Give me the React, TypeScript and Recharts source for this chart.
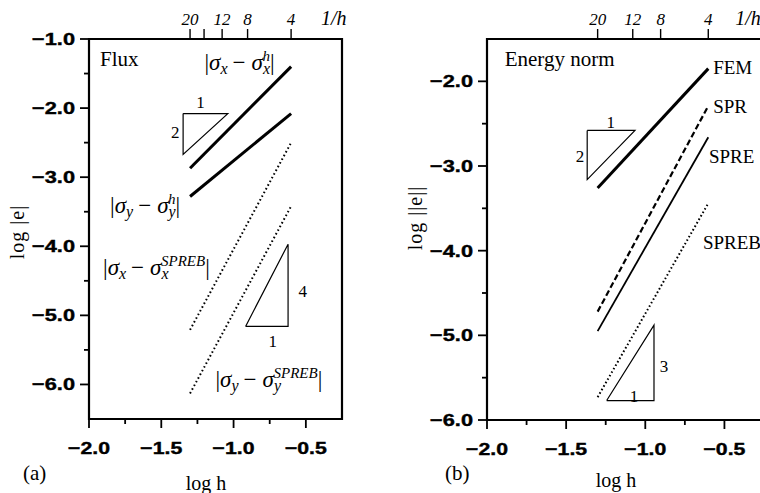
import React from 'react';
import { LineChart, Line, XAxis, YAxis, ReferenceDot, ReferenceArea } from 'recharts';

// log h for the finest and coarsest mesh (1/h = 20 ... 4)
const logH = [-1.301, -0.602];

// (a) flux errors, log |e|
const fluxSigmaXh = [-2.87, -1.4];
const fluxSigmaYh = [-3.28, -2.08];
const fluxSigmaXSpreb = [-5.21, -2.5];
const fluxSigmaYSpreb = [-6.13, -3.42];

// (b) energy norm errors, log ||e||
const energyFem = [-3.26, -1.85];
const energySpr = [-4.72, -2.29];
const energySpre = [-4.95, -2.66];
const energySpreb = [-5.73, -3.44];

// slope triangles (closed: first vertex repeated)
const slopeA2 = { x: [-1.349, -1.04, -1.349, -1.349], y: [-2.08, -2.08, -2.67, -2.08] };
const slopeA4 = { x: [-0.917, -0.623, -0.623, -0.917], y: [-5.16, -5.16, -3.97, -5.16] };
const slopeB2 = { x: [-1.367, -1.065, -1.367, -1.367], y: [-2.58, -2.58, -3.16, -2.58] };
const slopeB3 = { x: [-1.244, -0.945, -0.945, -1.244], y: [-5.77, -5.77, -4.88, -5.77] };

// axis ticks
const xTicks = [-2, -1.75, -1.5, -1.25, -1, -0.75, -0.5];
const yTicksA = [-6, -5.5, -5, -4.5, -4, -3.5, -3, -2.5, -2, -1.5, -1];
const yTicksB = [-6, -5.5, -5, -4.5, -4, -3.5, -3, -2.5, -2];
const meshA = [20, 16, 12, 8, 4];
const meshLabelsA = ['20', '', '12', '8', '4'];
const meshB = [20, 12, 8, 4];
const meshLabelsB = ['20', '12', '8', '4'];

// text notes (data coordinates)
const notesA = [
  { text: 'Flux', x: -1.924, y: -1.391, size: 21, anchor: 'start' },
  { text: '1', x: -1.229, y: -2.0, size: 17, anchor: 'middle' },
  { text: '2', x: -1.403, y: -2.435, size: 17, anchor: 'middle' },
  { text: '4', x: -0.521, y: -4.739, size: 17, anchor: 'middle' },
  { text: '1', x: -0.729, y: -5.464, size: 17, anchor: 'middle' },
];
const sigmaNotesA = [
  { sub: 'x', sup: 'h', x: -1.201, y: -1.449 },
  { sub: 'y', sup: 'h', x: -1.854, y: -3.522 },
  { sub: 'x', sup: 'SPREB', x: -1.903, y: -4.42 },
  { sub: 'y', sup: 'SPREB', x: -1.125, y: -6.043 },
];
const notesB = [
  { text: 'Energy norm', x: -1.888, y: -1.814, size: 21, anchor: 'start' },
  { text: 'FEM', x: -0.571, y: -1.909, size: 19, anchor: 'start' },
  { text: 'SPR', x: -0.571, y: -2.37, size: 19, anchor: 'start' },
  { text: 'SPRE', x: -0.598, y: -2.962, size: 19, anchor: 'start' },
  { text: 'SPREB', x: -0.636, y: -3.98, size: 19, anchor: 'start' },
  { text: '1', x: -1.218, y: -2.548, size: 17, anchor: 'middle' },
  { text: '2', x: -1.413, y: -2.95, size: 17, anchor: 'middle' },
  { text: '3', x: -0.882, y: -5.435, size: 17, anchor: 'middle' },
  { text: '1', x: -1.072, y: -5.79, size: 17, anchor: 'middle' },
];

const SERIF = '"Liberation Serif", "DejaVu Serif", serif';
const SANS = '"Liberation Sans", Arial, sans-serif';
const INK = '#000';

const pts = (ys: number[]) => logH.map((x, i) => ({ x, y: ys[i] }));
const poly = (p: { x: number[]; y: number[] }) => p.x.map((x, i) => ({ x, y: p.y[i] }));
const isMajor = (v: number) => Math.abs(v * 2 - Math.round(v * 2)) < 1e-6;
const fmt = (v: number) => (v < 0 ? '\u2212' : '') + Math.abs(v).toFixed(1);

function BottomTick({ x, y, payload }: any) {
  const major = isMajor(payload.value);
  return (
    <g>
      <line x1={x} x2={x} y1={y} y2={y + (major ? 9 : 5)} stroke={INK} strokeWidth={1.8} />
      {major && (
        <text
          transform={`translate(${x},${y + 35}) scale(1.25,1)`}
          textAnchor="middle"
          fontFamily={SANS}
          fontWeight="bold"
          fontSize={17}
          fill={INK}
          stroke={INK}
          strokeWidth={0.4}
        >
          {fmt(payload.value)}
        </text>
      )}
    </g>
  );
}

function LeftTick({ x, y, payload }: any) {
  const major = Number.isInteger(payload.value);
  return (
    <g>
      <line x1={x} x2={x - (major ? 9 : 5)} y1={y} y2={y} stroke={INK} strokeWidth={1.8} />
      {major && (
        <text
          transform={`translate(${x - 14},${y + 6}) scale(1.28,1)`}
          textAnchor="end"
          fontFamily={SANS}
          fontWeight="bold"
          fontSize={17}
          fill={INK}
          stroke={INK}
          strokeWidth={0.4}
        >
          {fmt(payload.value)}
        </text>
      )}
    </g>
  );
}

function TopTick({ x, y, index, labels }: any) {
  return (
    <g>
      <line x1={x} x2={x} y1={y} y2={y - 10} stroke={INK} strokeWidth={1.4} />
      <text x={x} y={y - 14} textAnchor="middle" fontFamily={SERIF} fontStyle="italic" fontSize={17} fill={INK}>
        {labels[index]}
      </text>
    </g>
  );
}

function SigmaText({ cx, cy, sub, sup }: any) {
  return (
    <text x={cx} y={cy} fontFamily={SERIF} fontSize={23} fill={INK}>
      <tspan>|</tspan>
      <tspan fontStyle="italic">σ</tspan>
      <tspan fontStyle="italic" fontSize={16} dy={4}>{sub}</tspan>
      <tspan dy={-4} dx={5}>{'\u2212'}</tspan>
      <tspan fontStyle="italic" dx={6}>σ</tspan>
      <tspan fontStyle="italic" fontSize={16} dy={4}>{sub}</tspan>
      <tspan fontStyle="italic" fontSize={15} dx={-7.5} dy={-13}>{sup}</tspan>
      <tspan dy={9}>|</tspan>
    </text>
  );
}

function PlainText({ cx, cy, text, size, anchor }: any) {
  return (
    <text x={cx} y={cy} textAnchor={anchor} fontFamily={SERIF} fontSize={size} fill={INK}>
      {text}
    </text>
  );
}

const axisLine = { stroke: INK, strokeWidth: 2 };

function Frame({ xDomain, yDomain, yTicks, mesh, meshLabels, hNote }: any) {
  const meshX = mesh.map((n: number) => -Math.log10(n));
  const meshPts = meshX.map((x: number) => ({ x, y: yDomain[0] }));
  return [
    <XAxis
      key="xb"
      xAxisId={0}
      dataKey="x"
      type="number"
      domain={xDomain}
      ticks={xTicks}
      interval={0}
      height={1}
      tickSize={0}
      tickMargin={0}
      tickLine={false}
      stroke={INK}
      axisLine={axisLine}
      tick={<BottomTick />}
    />,
    <XAxis
      key="xt"
      xAxisId="top"
      dataKey="x"
      orientation="top"
      type="number"
      domain={xDomain}
      ticks={meshX}
      interval={0}
      height={1}
      tickSize={0}
      tickMargin={0}
      tickLine={false}
      stroke={INK}
      axisLine={axisLine}
      tick={<TopTick labels={meshLabels} />}
    />,
    <YAxis
      key="yl"
      yAxisId={0}
      type="number"
      domain={yDomain}
      ticks={yTicks}
      interval={0}
      width={1}
      tickSize={0}
      tickMargin={0}
      tickLine={false}
      stroke={INK}
      axisLine={axisLine}
      tick={<LeftTick />}
    />,
    <YAxis
      key="yr"
      yAxisId="right"
      orientation="right"
      type="number"
      domain={yDomain}
      width={1}
      tick={false}
      tickLine={false}
      stroke={INK}
      axisLine={axisLine}
    />,
    // plot frame
    <ReferenceArea
      key="frame"
      x1={xDomain[0]}
      x2={xDomain[1]}
      y1={yDomain[0]}
      y2={yDomain[1]}
      fill="none"
      fillOpacity={0}
      stroke={INK}
      strokeWidth={2.2}
      strokeOpacity={1}
      ifOverflow="visible"
    />,
    // carrier for the 1/h scale on top (drawn invisibly)
    <Line
      key="mesh"
      xAxisId="top"
      yAxisId="right"
      data={meshPts}
      dataKey="y"
      stroke="none"
      dot={false}
      activeDot={false}
      legendType="none"
      isAnimationActive={false}
    />,
    <ReferenceDot
      key="h"
      x={hNote.x}
      y={hNote.y}
      r={0}
      ifOverflow="visible"
      shape={(p: any) => (
        <text x={p.cx} y={p.cy} fontFamily={SERIF} fontStyle="italic" fontSize={20} fill={INK}>
          1/h
        </text>
      )}
    />,
  ];
}

function series(key: string, data: any[], width: number, dash?: string) {
  return (
    <Line
      key={key}
      data={data}
      dataKey="y"
      type="linear"
      stroke={INK}
      strokeWidth={width}
      strokeDasharray={dash}
      dot={false}
      activeDot={false}
      isAnimationActive={false}
    />
  );
}

function notes(list: any[]) {
  return list.map((n, i) => (
    <ReferenceDot
      key={'n' + i}
      x={n.x}
      y={n.y}
      r={0}
      ifOverflow="visible"
      shape={(p: any) => <PlainText cx={p.cx} cy={p.cy} {...n} />}
    />
  ));
}

function sigmaNotes(list: any[]) {
  return list.map((n, i) => (
    <ReferenceDot
      key={'s' + i}
      x={n.x}
      y={n.y}
      r={0}
      ifOverflow="visible"
      shape={(p: any) => <SigmaText cx={p.cx} cy={p.cy} sub={n.sub} sup={n.sup} />}
    />
  ));
}

export default function App() {
  return (
    <div style={{ position: 'absolute', left: 0, top: 0, width: 760, height: 493, overflow: 'hidden', background: '#fff' }}>
      <div style={{ position: 'absolute', left: 0, top: 0 }}>
        <LineChart width={380} height={493} margin={{ top: 38, right: 37, bottom: 73, left: 88 }}>
          {Frame({
            xDomain: [-2, -0.25],
            yDomain: [-6.5, -1],
            yTicks: yTicksA,
            mesh: meshA,
            meshLabels: meshLabelsA,
            hNote: { x: -0.396, y: -0.797 },
          })}
          {series('sxh', pts(fluxSigmaXh), 3)}
          {series('syh', pts(fluxSigmaYh), 3)}
          {series('sxb', pts(fluxSigmaXSpreb), 2, '1.6 2.6')}
          {series('syb', pts(fluxSigmaYSpreb), 2, '1.6 2.6')}
          {series('ta2', poly(slopeA2), 1.2)}
          {series('ta4', poly(slopeA4), 1.2)}
          {notes(notesA)}
          {sigmaNotes(sigmaNotesA)}
        </LineChart>
      </div>
      <div style={{ position: 'absolute', left: 380, top: 0 }}>
        <LineChart width={430} height={493} margin={{ top: 38, right: 45, bottom: 72, left: 106 }}>
          {Frame({
            xDomain: [-2, -0.25],
            yDomain: [-6, -1.5],
            yTicks: yTicksB,
            mesh: meshB,
            meshLabels: meshLabelsB,
            hNote: { x: -0.432, y: -1.331 },
          })}
          {series('fem', pts(energyFem), 3)}
          {series('spr', pts(energySpr), 2.2, '6 3')}
          {series('spre', pts(energySpre), 1.8)}
          {series('spreb', pts(energySpreb), 2, '1.6 2.4')}
          {series('tb2', poly(slopeB2), 1.2)}
          {series('tb3', poly(slopeB3), 1.2)}
          {notes(notesB)}
        </LineChart>
      </div>
      <svg width={760} height={493} style={{ position: 'absolute', left: 0, top: 0, pointerEvents: 'none' }}>
        <g fontFamily={SERIF} fill={INK} fontSize={20}>
          <text transform="translate(24,232) rotate(-90)" textAnchor="middle" letterSpacing={1}>log |e|</text>
          <text transform="translate(422,218) rotate(-90)" textAnchor="middle" letterSpacing={1}>log ||e||</text>
          <text x={206} y={490} textAnchor="middle">log h</text>
          <text x={616} y={487} textAnchor="middle">log h</text>
          <text x={23} y={480} fontSize={21}>(a)</text>
          <text x={445} y={480} fontSize={21}>(b)</text>
        </g>
      </svg>
    </div>
  );
}
